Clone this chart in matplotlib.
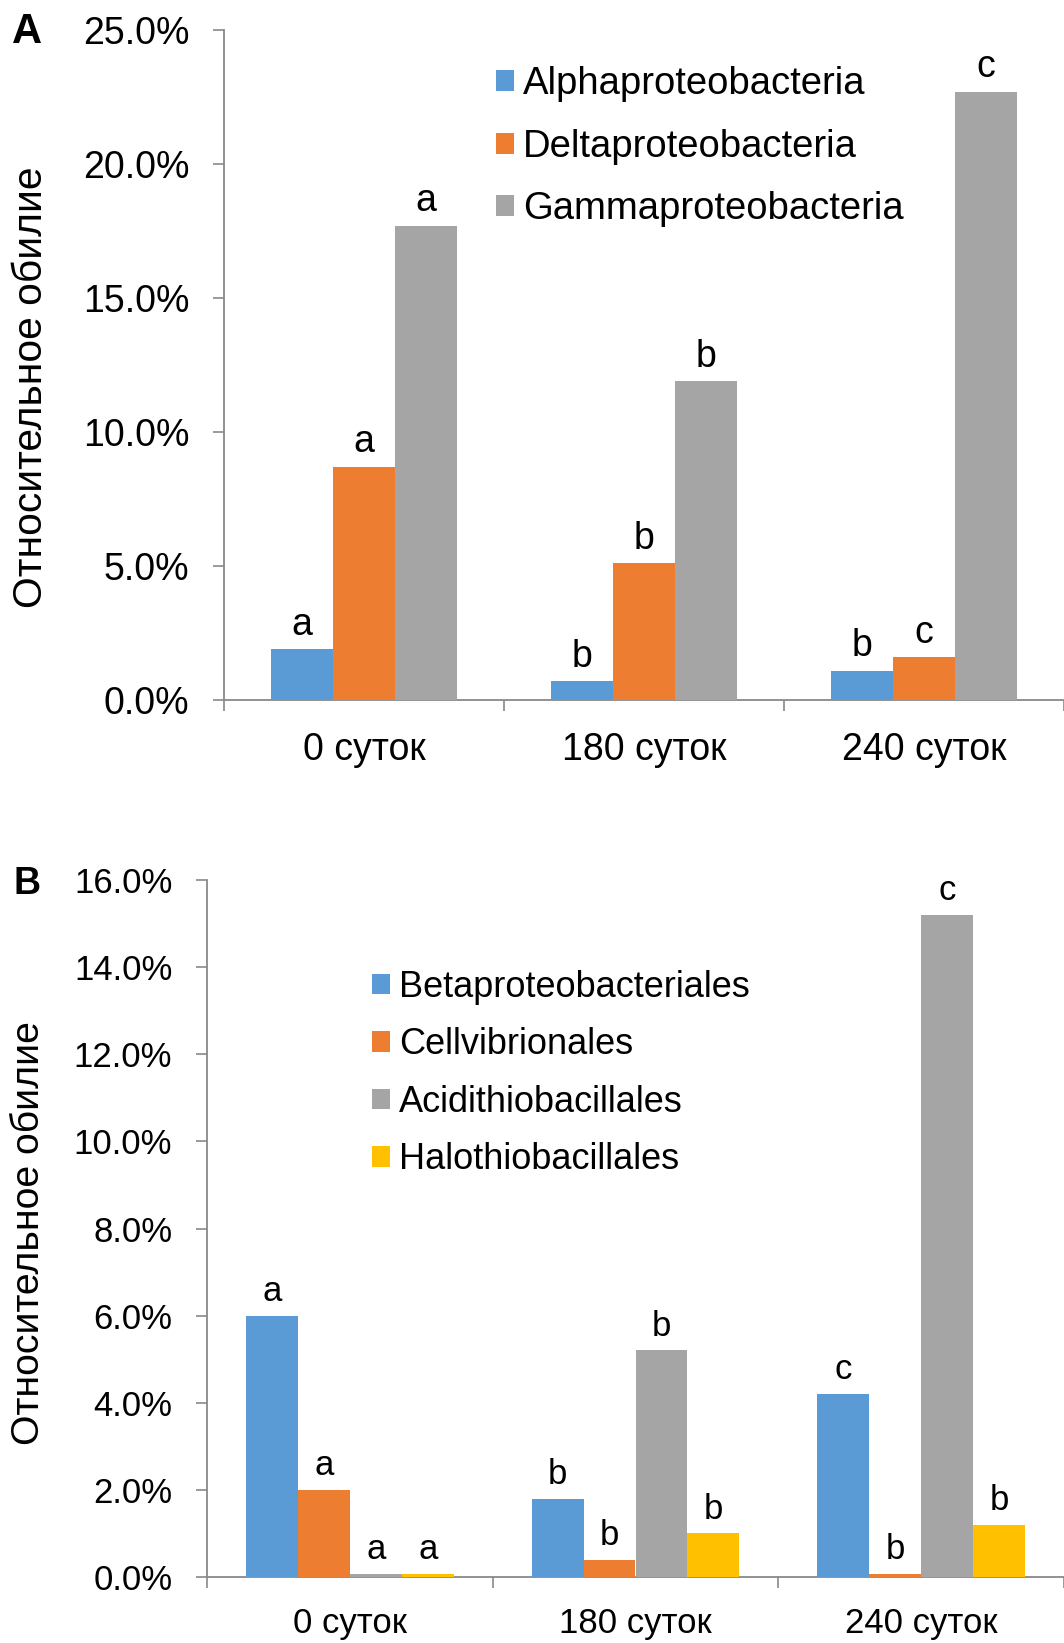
import matplotlib
matplotlib.use("Agg")
import matplotlib.pyplot as plt
from matplotlib.ticker import FuncFormatter

plt.rcParams['font.family'] = ['Liberation Sans', 'DejaVu Sans']

# ---- data ----
days = ['0 суток', '180 суток', '240 суток']

classes_a = ['Alphaproteobacteria', 'Deltaproteobacteria', 'Gammaproteobacteria']
alpha_vals = [1.9, 0.7, 1.1]
delta_vals = [8.7, 5.1, 1.6]
gamma_vals = [17.7, 11.9, 22.7]
alpha_sig = ['a', 'b', 'b']
delta_sig = ['a', 'b', 'c']
gamma_sig = ['a', 'b', 'c']

orders_b = ['Betaproteobacteriales', 'Cellvibrionales', 'Acidithiobacillales', 'Halothiobacillales']
beta_vals = [6.0, 1.8, 4.2]
cellv_vals = [2.0, 0.4, 0.08]
acidi_vals = [0.08, 5.2, 15.2]
halo_vals = [0.08, 1.0, 1.2]
beta_sig = ['a', 'b', 'c']
cellv_sig = ['a', 'b', 'b']
acidi_sig = ['a', 'b', 'c']
halo_sig = ['a', 'b', 'b']

colors = ['#5B9BD5', '#ED7D31', '#A5A5A5', '#FFC000']
axis_gray = '#898989'

W, H = 1064, 1643
fig = plt.figure(figsize=(W / 100, H / 100), dpi=100)


def rect(x0, y0, x1, y1):
    return [x0 / W, 1 - y1 / H, (x1 - x0) / W, (y1 - y0) / H]


def draw_panel(ax, series, sigs, ymax, ystep, fs_tick, fs_lab, xpad):
    n = len(series)
    w = 1.0 / (n + 1.5)
    handles = []
    for i, (vals, sig) in enumerate(zip(series, sigs)):
        xs = [c + 0.5 + (i - (n - 1) / 2) * w for c in range(len(days))]
        bars = ax.bar(xs, vals, width=w, color=colors[i], linewidth=0)
        handles.append(bars)
        for x, v, s in zip(xs, vals, sig):
            ax.annotate(s, (x, v), xytext=(0, 10.5), textcoords='offset points',
                        ha='center', va='baseline', fontsize=fs_lab)
    ax.set_xlim(0, len(days))
    ax.set_ylim(0, ymax)
    ax.set_yticks([ystep * k for k in range(int(round(ymax / ystep)) + 1)])
    ax.yaxis.set_major_formatter(FuncFormatter(lambda v, p: f'{v:.1f}%'))
    ax.set_xticks([c + 0.5 for c in range(len(days))])
    ax.set_xticklabels(days)
    ax.set_xticks(range(len(days) + 1), minor=True)
    ax.tick_params(axis='x', which='major', length=0, pad=xpad, labelsize=fs_tick)
    ax.tick_params(axis='x', which='minor', length=8, width=1.2, color=axis_gray,
                   direction='out')
    ax.tick_params(axis='y', length=8, width=1.2, color=axis_gray, direction='out',
                   pad=17, labelsize=fs_tick)
    for side in ('top', 'right'):
        ax.spines[side].set_visible(False)
    for side in ('left', 'bottom'):
        ax.spines[side].set_color(axis_gray)
        ax.spines[side].set_linewidth(1.3)
    ax.spines['bottom'].set_zorder(0.5)
    return handles


# ---- panel A ----
axA = fig.add_axes(rect(224, 30.4, 1064, 700))
hA = draw_panel(axA, [alpha_vals, delta_vals, gamma_vals],
                [alpha_sig, delta_sig, gamma_sig],
                25, 5, 27, 27, 23)
fsA = 27.5 * 100 / 72
axA.legend(hA, classes_a, loc='upper left',
           bbox_to_anchor=(496 / W, 1 - 66 / H), bbox_transform=fig.transFigure,
           frameon=False, borderpad=0, borderaxespad=0, fontsize=27.5,
           handlelength=18 / fsA, handleheight=18 / fsA,
           handletextpad=9 / fsA, labelspacing=0.7)
fig.text(31 / W, 1 - 387 / H, 'Относительное обилие', rotation=90,
         ha='center', va='center', fontsize=29.3)
fig.text(12 / W, 1 - 43 / H, 'A', fontsize=30, fontweight='bold', va='baseline')

# ---- panel B ----
axB = fig.add_axes(rect(207, 880, 1064, 1577))
hB = draw_panel(axB, [beta_vals, cellv_vals, acidi_vals, halo_vals],
                [beta_sig, cellv_sig, acidi_sig, halo_sig],
                16, 2, 25, 25, 21.5)
fsB = 26 * 100 / 72
axB.legend(hB, orders_b, loc='upper left',
           bbox_to_anchor=(372 / W, 1 - 970 / H), bbox_transform=fig.transFigure,
           frameon=False, borderpad=0, borderaxespad=0, fontsize=26,
           handlelength=18 / fsB, handleheight=18 / fsB,
           handletextpad=9 / fsB, labelspacing=0.62)
fig.text(29 / W, 1 - 1233 / H, 'Относительное обилие', rotation=90,
         ha='center', va='center', fontsize=28.3)
fig.text(13 / W, 1 - 894 / H, 'B', fontsize=27, fontweight='bold', va='baseline')

fig.savefig('out.png', dpi=100)
